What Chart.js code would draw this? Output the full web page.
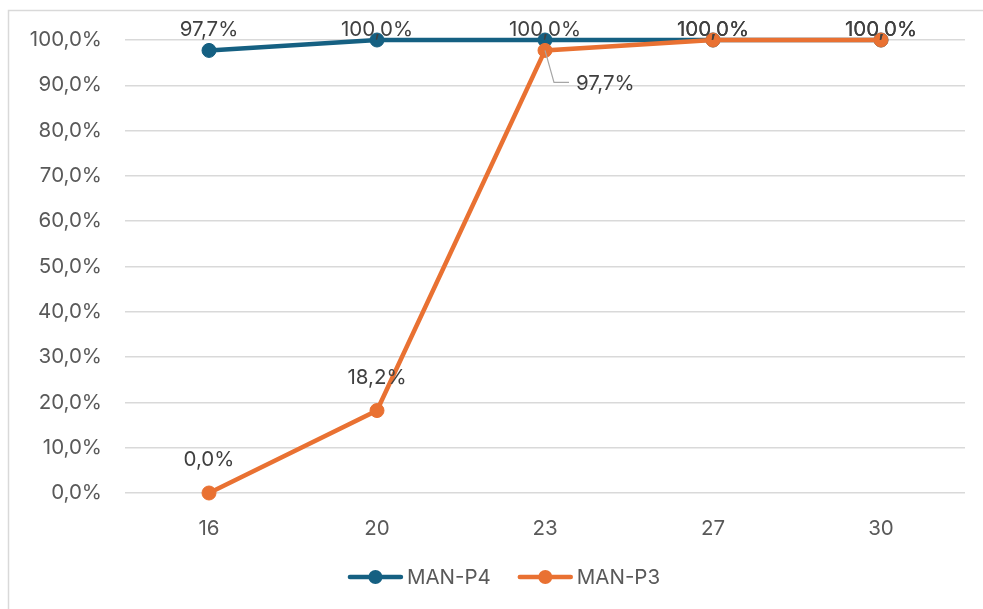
<!DOCTYPE html>
<html>
<head>
<meta charset="utf-8">
<script src="https://cdn.jsdelivr.net/npm/chart.js@4"></script>
<style>
  html, body { margin: 0; padding: 0; background: #fff; }
  #wrap { width: 983px; height: 609px; position: relative; }
</style>
</head>
<body>
<div id="wrap"><canvas id="tempChart" width="983" height="609"></canvas></div>
<script>
const temps = ["16", "20", "23", "27", "30"];
const p4Values = [97.7, 100, 100, 100, 100];
const p3Values = [0, 18.2, 97.7, 100, 100];
const yTicks = [0, 10, 20, 30, 40, 50, 60, 70, 80, 90, 100];

const BLUE = "#156082";
const ORANGE = "#E97132";
const FONT = "Inter, 'Liberation Sans', sans-serif";
const FSIZE = 20.5;

function pct(v) {
  return v.toFixed(1).replace(".", ",") + "%";
}

// frame round the whole chart, like the Excel chart border
const framePlugin = {
  id: "frame",
  beforeDraw(chart) {
    const ctx = chart.ctx;
    ctx.save();
    ctx.fillStyle = "#fff";
    ctx.fillRect(0, 0, chart.width, chart.height);
    ctx.strokeStyle = "#D9D9D9";
    ctx.lineWidth = 1.5;
    ctx.strokeRect(8.5, 10.5, 1200, 1200);
    ctx.restore();
  }
};

// data labels: above the point, kept under the plot top, one with a leader line
const labelPlugin = {
  id: "pointLabels",
  afterDatasetsDraw(chart) {
    const ctx = chart.ctx;
    ctx.save();
    ctx.font = FSIZE + "px " + FONT;
    ctx.fillStyle = "#404040";
    ctx.textAlign = "center";
    ctx.textBaseline = "middle";
    chart.data.datasets.forEach((ds, di) => {
      const meta = chart.getDatasetMeta(di);
      meta.data.forEach((pt, i) => {
        const text = pct(ds.data[i]);
        if (di === 1 && i === 2) {
          // callout to the lower right
          ctx.save();
          ctx.strokeStyle = "#A6A6A6";
          ctx.lineWidth = 1.2;
          ctx.beginPath();
          ctx.moveTo(pt.x, pt.y);
          ctx.lineTo(pt.x + 9, pt.y + 32);
          ctx.lineTo(pt.x + 24, pt.y + 32);
          ctx.stroke();
          ctx.restore();
          ctx.textAlign = "left";
          ctx.fillText(text, pt.x + 31, pt.y + 33);
          ctx.textAlign = "center";
          return;
        }
        const off = di === 0 ? 21 : 33;
        const y = Math.max(pt.y - off, 30);
        ctx.fillText(text, pt.x, y);
      });
    });
    ctx.restore();
  }
};

// legend drawn by hand: line with marker, then the name
const legendPlugin = {
  id: "lineLegend",
  afterDraw(chart) {
    const ctx = chart.ctx;
    ctx.save();
    ctx.font = FSIZE + "px " + FONT;
    ctx.textBaseline = "middle";
    const items = chart.data.datasets.map(ds => ({
      label: ds.label,
      color: ds.borderColor,
      w: 55 + 4 + ctx.measureText(ds.label).width
    }));
    const gap = 27;
    const total = items.reduce((s, it) => s + it.w, 0) + gap * (items.length - 1);
    let x = 504 - total / 2;
    const y = 577;
    items.forEach(it => {
      ctx.strokeStyle = it.color;
      ctx.fillStyle = it.color;
      ctx.lineWidth = 4.5;
      ctx.lineCap = "round";
      ctx.beginPath();
      ctx.moveTo(x + 2, y);
      ctx.lineTo(x + 53, y);
      ctx.stroke();
      ctx.beginPath();
      ctx.arc(x + 27.5, y, 7, 0, Math.PI * 2);
      ctx.fill();
      ctx.fillStyle = "#595959";
      ctx.textAlign = "left";
      ctx.fillText(it.label, x + 59, y + 1);
      x += it.w + gap;
    });
    ctx.restore();
  }
};

const ctx = document.getElementById("tempChart").getContext("2d");
new Chart(ctx, {
  type: "line",
  data: {
    labels: temps,
    datasets: [
      {
        label: "MAN-P4",
        data: p4Values,
        borderColor: BLUE,
        backgroundColor: BLUE,
        borderWidth: 4.5,
        pointRadius: 7,
        pointBorderWidth: 1,
        pointBackgroundColor: BLUE,
        pointBorderColor: BLUE,
        clip: false,
        order: 1
      },
      {
        label: "MAN-P3",
        data: p3Values,
        borderColor: ORANGE,
        backgroundColor: ORANGE,
        borderWidth: 4.5,
        pointRadius: 7,
        pointBorderWidth: 1,
        pointBackgroundColor: ORANGE,
        pointBorderColor: ORANGE,
        clip: false,
        order: 0
      }
    ]
  },
  options: {
    responsive: false,
    animation: false,
    devicePixelRatio: 1,
    layout: { padding: { left: 0, right: 18, top: 40, bottom: 56 } },
    plugins: {
      legend: { display: false },
      tooltip: { enabled: false }
    },
    scales: {
      x: {
        offset: true,
        grid: { display: false },
        border: { display: false },
        ticks: { color: "#595959", font: { size: FSIZE, family: FONT }, padding: 16 },
        afterFit(scale) { scale.height = 60; }
      },
      y: {
        min: 0,
        max: 100,
        afterBuildTicks(scale) { scale.ticks = yTicks.map(v => ({ value: v })); },
        grid: { color: "#D9D9D9", lineWidth: 1.5, drawTicks: false },
        border: { display: false },
        ticks: {
          color: "#595959",
          font: { size: FSIZE, family: FONT },
          padding: 23,
          callback: v => pct(v)
        },
        afterFit(scale) { scale.width = 125; }
      }
    }
  },
  plugins: [framePlugin, labelPlugin, legendPlugin]
});
</script>
</body>
</html>
